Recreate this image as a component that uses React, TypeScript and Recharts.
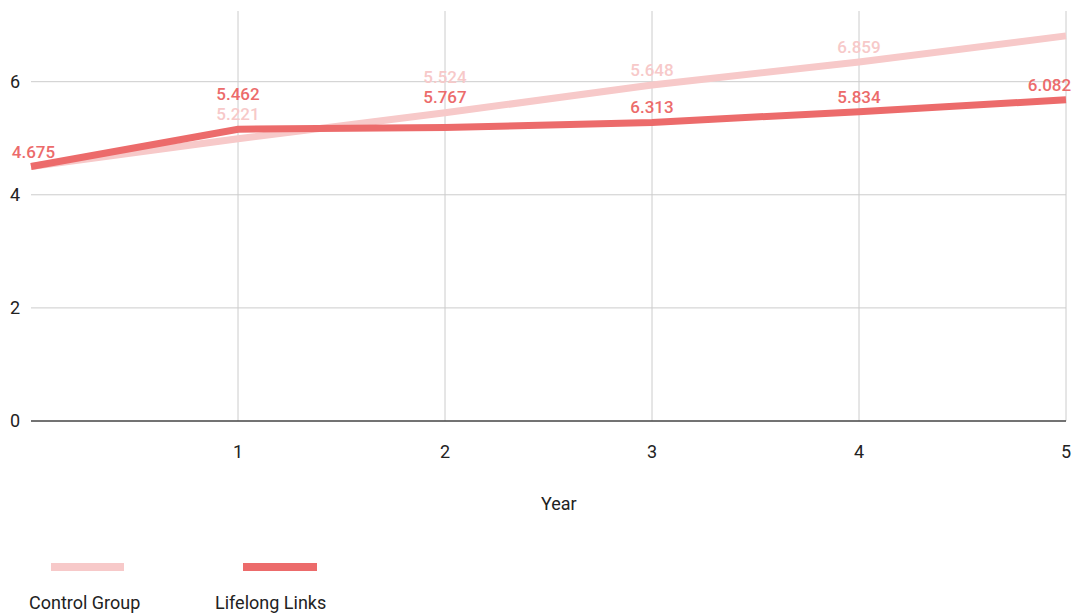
import React from "react";
import { LineChart, Line, XAxis, YAxis, CartesianGrid, LabelList } from "recharts";

// trend lines as drawn, and the value labels that Sheets printed on them
const years = [0, 1, 2, 3, 4, 5];
const controlTrend = [4.5, 4.99, 5.45, 5.94, 6.35, 6.81];
const lifelongTrend = [4.5, 5.16, 5.19, 5.28, 5.47, 5.68];
const controlLabels = ["", "5.221", "5.524", "5.648", "6.859", ""];
const lifelongLabels = ["4.675", "5.462", "5.767", "6.313", "5.834", "6.082"];
const yTicks = [0, 2, 4, 6];
const xTicks = [1, 2, 3, 4, 5];

const CONTROL = "#f7c9c9";
const LIFELONG = "#ec6b6b";
const FONT = "Roboto, 'Noto Sans', sans-serif";

const W = 1076;
const H = 470;
const TOP = 11;
const AXIS_Y = 421;
const Y_MAX = 7.25;
const PX = (AXIS_Y - TOP) / Y_MAX;

const data = years.map((year, i) => ({
    year,
    control: controlTrend[i],
    lifelong: lifelongTrend[i],
}));

type Key = "control" | "lifelong";

// place both labels of one column: start just above the own line,
// then lift past the other line and any label already placed
function placeLabels(index: number, key: Key, ownY: number) {
    const vals = { control: controlTrend[index], lifelong: lifelongTrend[index] };
    const texts = { control: controlLabels[index], lifelong: lifelongLabels[index] };
    const ys: Record<Key, number> = {
        control: ownY + (vals[key] - vals.control) * PX,
        lifelong: ownY + (vals[key] - vals.lifelong) * PX,
    };
    const order = (["control", "lifelong"] as Key[]).sort((a, b) => ys[b] - ys[a]);
    const boxes: [number, number][] = [];
    const out: Record<string, number> = {};
    for (const k of order) {
        if (!texts[k]) continue;
        const obstacles: [number, number][] = [...boxes];
        for (const o of order) if (o !== k) obstacles.push([ys[o] - 4.5, ys[o] + 4.5]);
        let b = ys[k] - 9;
        for (let n = 0; n < 6; n++) {
            const hit = obstacles.find(([t, bt]) => b - 15 < bt && b + 4 > t);
            if (!hit) break;
            b = hit[0] - 5;
        }
        boxes.push([b - 15, b + 4]);
        out[k] = b;
    }
    return out[key];
}

function makeLabel(key: Key, color: string) {
    return (props: any) => {
        const { index } = props;
        const text = (key === "control" ? controlLabels : lifelongLabels)[index];
        if (!text) return null;
        const x = props.x ?? props.viewBox?.x;
        const y = props.y ?? props.viewBox?.y;
        const baseline = placeLabels(index, key, y);
        const w = text.length * 8.6;
        const cx = Math.min(Math.max(x, 12 + w / 2), W - 5 - w / 2);
        return (
            <text
                key={`${key}-${index}`}
                x={cx}
                y={baseline}
                textAnchor="middle"
                fontFamily={FONT}
                fontSize={17}
                fontWeight={500}
                fill={color}
            >
                {text}
            </text>
        );
    };
}

const axisText = { fill: "#222", fontSize: 18, fontFamily: FONT };
const legendText: React.CSSProperties = {
    position: "absolute",
    top: 594,
    fontSize: 18,
    lineHeight: "18px",
    color: "#222",
    whiteSpace: "nowrap",
};

export default function App() {
    return (
        <div
            style={{
                position: "absolute",
                left: 0,
                top: 0,
                width: W,
                height: 613,
                background: "#fff",
                fontFamily: FONT,
                overflow: "hidden",
            }}
        >
            <LineChart
                width={W}
                height={H}
                data={data}
                margin={{ top: TOP, right: W - 1066, bottom: H - AXIS_Y - 40, left: 0 }}
            >
                <CartesianGrid stroke="#cccccc" strokeWidth={1} syncWithTicks />
                <XAxis
                    dataKey="year"
                    type="number"
                    domain={[0, 5]}
                    ticks={xTicks}
                    height={40}
                    tickLine={false}
                    tickSize={0}
                    tickMargin={24}
                    axisLine={{ stroke: "#000" }}
                    tick={axisText}
                />
                <YAxis
                    type="number"
                    domain={[0, Y_MAX]}
                    ticks={yTicks}
                    width={31}
                    axisLine={false}
                    tickLine={false}
                    tickSize={0}
                    tickMargin={11}
                    tick={axisText}
                />
                <Line
                    type="linear"
                    dataKey="control"
                    stroke={CONTROL}
                    strokeWidth={7}
                    dot={false}
                    activeDot={false}
                    isAnimationActive={false}
                >
                    <LabelList dataKey="control" content={makeLabel("control", CONTROL)} />
                </Line>
                <Line
                    type="linear"
                    dataKey="lifelong"
                    stroke={LIFELONG}
                    strokeWidth={7}
                    dot={false}
                    activeDot={false}
                    isAnimationActive={false}
                >
                    <LabelList dataKey="lifelong" content={makeLabel("lifelong", LIFELONG)} />
                </Line>
            </LineChart>

            <div style={{ ...legendText, left: 541, top: 495 }}>Year</div>

            <div style={{ position: "absolute", left: 51, top: 563, width: 73, height: 8, background: CONTROL }} />
            <div style={{ position: "absolute", left: 243, top: 563, width: 74, height: 8, background: LIFELONG }} />
            <div style={{ ...legendText, left: 29 }}>Control Group</div>
            <div style={{ ...legendText, left: 215 }}>Lifelong Links</div>
        </div>
    );
}
